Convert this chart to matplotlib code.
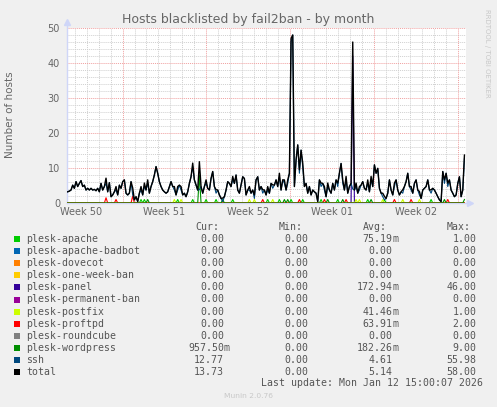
import numpy as np
import matplotlib
matplotlib.use("Agg")
import matplotlib.pyplot as plt
from matplotlib.patches import Rectangle

# ---------------------------------------------------------
# Data (samples every ~3.3 h)
# time axis in days since Mon Dec 8 2025 00:00
# ---------------------------------------------------------
T_START = 2.42
T_STEP = 0.1392

ssh = [
    3.2, 3.4, 3.7, 5.1, 4.2, 6.1, 4.7, 5.6, 6.4, 4.7,
    5.1, 3.7, 4.2, 3.7, 4.2, 3.7, 3.9, 3.5, 4.2, 3.2,
    5.6, 3.7, 4.7, 5.6, 3.2, 5.8, 1.8, 2.3, 3.2, 3.7,
    2.3, 5.1, 4.2, 6.1, 6.6, 2.8, 2.3, 2.8, 6.1, 2.3,
    0.9, 1.8, 0.4, 2.8, 3.7, 2.3, 4.7, 3.7, 5.6, 2.8,
    4.7, 6.1, 8.0, 10.4, 8.5, 6.1, 4.7, 3.7, 3.2, 2.8,
    3.2, 4.7, 6.1, 4.7, 3.7, 2.3, 3.7, 5.1, 3.7, 2.3,
    2.8, 1.8, 3.2, 5.6, 7.5, 10.4, 6.6, 5.1, 3.7, 3.8,
    4.7, 2.8, 4.7, 5.6, 4.2, 3.7, 7.0, 9.0, 4.7, 2.8,
    3.7, 2.3, 1.3, 0.4, 1.8, 3.7, 6.1, 5.6, 4.7, 6.6,
    5.6, 8.0, 3.7, 2.8, 5.1, 7.5, 7.0, 2.3, 3.7, 3.7,
    2.8, 3.7, 1.3, 6.6, 7.5, 3.7, 4.7, 2.8, 3.7, 2.3,
    3.7, 2.8, 5.6, 4.2, 5.1, 6.6, 4.7, 7.5, 3.7, 6.6,
    5.6, 3.7, 5.6, 8.5, 46.0, 48.0, 4.7, 12.3, 16.6, 8.5,
    15.1, 10.4, 4.7, 5.6, 2.8, 4.7, 2.3, 3.7, 3.2, 2.8,
    0.4, 6.6, 4.7, 5.6, 3.7, 1.8, 4.7, 3.7, 2.8, 5.6,
    3.7, 6.6, 4.7, 8.5, 11.3, 5.6, 3.7, 6.6, 2.8, 4.7,
    5.6, 4.0, 3.7, 4.7, 2.8, 3.7, 5.1, 6.1, 4.2, 3.7,
    5.6, 3.2, 6.6, 4.7, 10.9, 8.5, 9.9, 4.2, 2.8, 1.8,
    0.9, 1.3, 2.8, 6.6, 3.7, 2.3, 4.7, 6.6, 3.7, 2.3,
    3.2, 2.8, 4.7, 6.1, 8.5, 4.7, 3.7, 2.8, 5.6, 6.6,
    3.7, 2.3, 1.3, 3.7, 4.2, 4.7, 6.6, 3.7, 2.8, 4.2,
    3.7, 2.8, 1.8, 0.9, 0.4, 9.0, 5.6, 8.5, 4.7, 6.6,
    3.7, 2.8, 1.8, 2.3, 5.6, 7.5, 1.8, 3.7, 12.7,
]

# sparse series: sample index -> value
proftpd_idx = [23, 29, 39, 117, 139, 154, 167, 196, 206, 228]
proftpd_val = [1.5, 1, 2, 1, 1, 1, 1, 1, 1, 1]
apache_idx = [44, 46, 66, 75, 83, 89, 99, 120, 127, 134, 141, 152, 162, 180, 190, 218]
apache_val = [1] * len(apache_idx)
postfix_idx = [64, 68, 109, 112, 123, 173, 175, 189, 201, 211]
postfix_val = [1] * len(postfix_idx)
wordpress_idx = [48, 79, 93, 130, 132, 156, 165, 182, 226, 238]
wordpress_val = [1, 8, 1, 1, 1, 1, 1, 1, 1, 1]
panel_idx = [171]
panel_val = [42]

series_names = [
    "plesk-apache", "plesk-apache-badbot", "plesk-dovecot", "plesk-one-week-ban",
    "plesk-panel", "plesk-permanent-ban", "plesk-postfix", "plesk-proftpd",
    "plesk-roundcube", "plesk-wordpress", "ssh", "total",
]
series_colors = [
    "#00CC00", "#0066B3", "#FF8000", "#FFCC00", "#330099", "#990099",
    "#CCFF00", "#FF0000", "#808080", "#008F00", "#00487D", "#000000",
]
cur_vals = ["0.00", "0.00", "0.00", "0.00", "0.00", "0.00", "0.00", "0.00", "0.00", "957.50m", "12.77", "13.73"]
min_vals = ["0.00"] * 12
avg_vals = ["75.19m", "0.00", "0.00", "0.00", "172.94m", "0.00", "41.46m", "63.91m", "0.00", "182.26m", "4.61", "5.14"]
max_vals = ["1.00", "0.00", "0.00", "0.00", "46.00", "0.00", "1.00", "2.00", "0.00", "9.00", "55.98", "58.00"]

week_labels = ["Week 50", "Week 51", "Week 52", "Week 01", "Week 02"]

TITLE = "Hosts blacklisted by fail2ban - by month"
LAST_UPDATE = "Last update: Mon Jan 12 15:00:07 2026"

W, H = 497, 407
FONT_COL = "#666666"
AXIS_COL = "#CFD6F8"


def sparse(idx, val, n):
    arr = np.zeros(n)
    arr[idx] = val
    return arr


def fx(px):
    return px / W


def fy(py):
    return 1 - py / H


def main():
    n = len(ssh)
    t = T_START + np.arange(n) * T_STEP

    data = {name: np.zeros(n) for name in series_names}
    data["plesk-apache"] = sparse(apache_idx, apache_val, n)
    data["plesk-panel"] = sparse(panel_idx, panel_val, n)
    data["plesk-postfix"] = sparse(postfix_idx, postfix_val, n)
    data["plesk-proftpd"] = sparse(proftpd_idx, proftpd_val, n)
    data["plesk-wordpress"] = sparse(wordpress_idx, wordpress_val, n)
    data["ssh"] = np.array(ssh)
    data["total"] = sum(data[k] for k in series_names[:-1])

    fig = plt.figure(figsize=(W / 100, H / 100), dpi=100, facecolor="#F0F0F0")
    ax = fig.add_axes([fx(67), fy(203), 399 / W, 175 / H])
    ax.set_facecolor("white")
    for s in ax.spines.values():
        s.set_visible(False)

    x0, x1 = 2.363, 35.68
    ax.set_xlim(x0, x1)
    ax.set_ylim(0, 50)

    # grid: days / 2 units minor, weeks / 10 units major
    for d in range(3, 36):
        if d % 7:
            ax.axvline(d, color="#D0D0D0", lw=0.7, ls=(0, (1, 1)), zorder=1)
    for v in range(2, 51, 2):
        if v % 10:
            ax.axhline(v, color="#D0D0D0", lw=0.7, ls=(0, (1, 1)), zorder=1)
    for d in range(7, 36, 7):
        ax.axvline(d, color="#F0A0A0", lw=0.7, ls=(0, (1, 1)), zorder=1.5)
    for v in range(10, 51, 10):
        ax.axhline(v, color="#F0A0A0", lw=0.7, ls=(0, (1, 1)), zorder=1.5)

    # axes with arrows
    ax.plot([x0, x0], [0, 51.3], color=AXIS_COL, lw=1, clip_on=False, zorder=2)
    ax.plot([x0, x1 + 0.3], [0, 0], color=AXIS_COL, lw=1, clip_on=False, zorder=2)
    ax.plot([x0], [51.6], marker="^", ms=4, color=AXIS_COL, clip_on=False, zorder=2)
    ax.plot([x1 + 0.35], [0], marker=">", ms=4, color=AXIS_COL, clip_on=False, zorder=2)

    for i, name in enumerate(series_names):
        lw = 1.0 if name == "total" else 0.8
        ax.plot(t, data[name], color=series_colors[i], lw=lw, zorder=3 + i * 0.1)

    ax.set_yticks(range(0, 51, 10))
    ax.set_xticks([3.5 + 7 * k for k in range(len(week_labels))])
    ax.set_xticklabels(week_labels)
    ax.tick_params(length=0, labelsize=7, colors=FONT_COL)
    ax.tick_params(axis="y", pad=5)
    ax.tick_params(axis="x", pad=3)

    fig.text(fx(248.5), fy(19), TITLE, ha="center", va="center", fontsize=9, color=FONT_COL)
    fig.text(fx(10.5), fy(115), "Number of hosts", rotation=90, ha="center", va="center",
             fontsize=7.5, color=FONT_COL)
    fig.text(fx(487.5), fy(53), "RRDTOOL / TOBI OETIKER", rotation=270, ha="center", va="center",
             fontsize=5, color="#C8C8C8")

    # legend block
    mono = dict(family="DejaVu Sans Mono", fontsize=7.1, color="#555555", va="center")
    char_w = 5.94
    for hdr, xl in [("Cur:", 195), ("Min:", 278.7), ("Avg:", 362.7), ("Max:", 446.7)]:
        fig.text(fx(xl), fy(227.3), hdr, ha="left", **mono)
    col_right = [224.0, 308.0, 392.5, 476.7]
    for i, name in enumerate(series_names):
        yc = 239.3 + 12.04 * i
        fig.patches.append(Rectangle((fx(14), fy(yc + 3)), 6 / W, 6 / H, transform=fig.transFigure,
                                     facecolor=series_colors[i], edgecolor="none"))
        fig.text(fx(26.3), fy(yc), name, ha="left", **mono)
        for col, vals in enumerate([cur_vals, min_vals, avg_vals, max_vals]):
            v = vals[i]
            num = v.rstrip("m")
            fig.text(fx(col_right[col]), fy(yc), num, ha="right", **mono)
            if v.endswith("m"):
                fig.text(fx(col_right[col]), fy(yc), "m", ha="left", **mono)
    fig.text(fx(482.7), fy(383.3), LAST_UPDATE, ha="right", **mono)
    fig.text(fx(248), fy(396), "Munin 2.0.76", ha="center", va="center", fontsize=5.4, color="#C8C8C8")

    fig.savefig("out.png", dpi=100, facecolor=fig.get_facecolor())
    plt.close(fig)


if __name__ == "__main__":
    main()
